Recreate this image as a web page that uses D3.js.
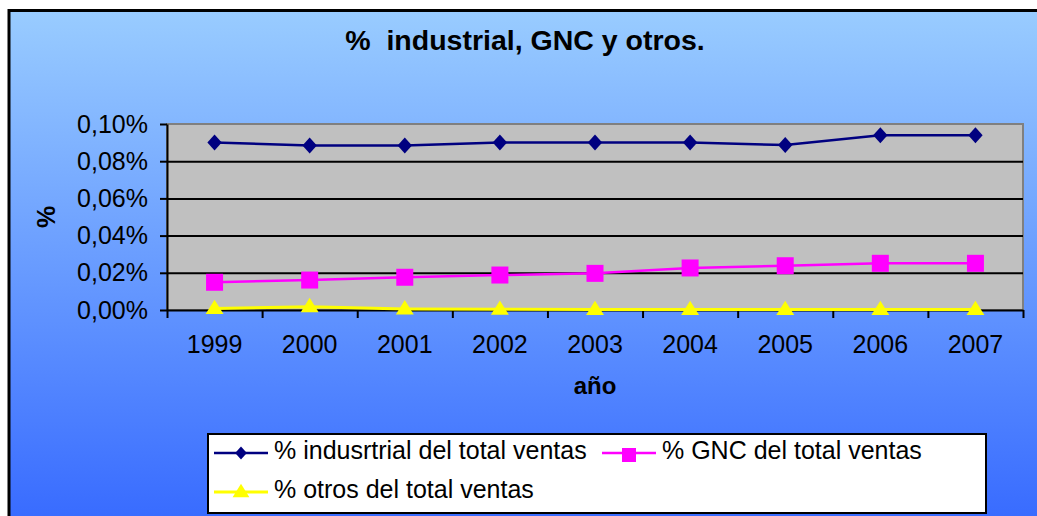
<!DOCTYPE html>
<html>
<head>
<meta charset="utf-8">
<script src="https://cdn.jsdelivr.net/npm/d3@7"></script>
<style>
  body { margin: 0; background: #fff; }
  svg { display: block; font-family: "Liberation Sans", Arial, sans-serif; }
</style>
</head>
<body>
<div id="chart"></div>
<script>
// data, in percent of total sales
var years = ['1999', '2000', '2001', '2002', '2003', '2004', '2005', '2006', '2007'];
var industrial = [0.0900, 0.0885, 0.0885, 0.0900, 0.0900, 0.0900, 0.0887, 0.0940, 0.0940];
var gnc = [0.0149, 0.0161, 0.0176, 0.0188, 0.0197, 0.0226, 0.0238, 0.0251, 0.0251];
var otros = [0.0008, 0.0018, 0.0006, 0.0004, 0.0003, 0.0003, 0.0003, 0.0003, 0.0003];
var yTicks = [0, 0.02, 0.04, 0.06, 0.08, 0.10];
var seriesNames = ['% indusrtrial del total ventas', '% GNC del total ventas', '% otros del total ventas'];

var W = 1037, H = 516;
var plot = {left: 167, right: 1023, top: 124, bottom: 310};

var svg = d3.select('#chart').append('svg')
  .attr('width', W)
  .attr('height', H);

var grad = svg.append('defs').append('linearGradient')
  .attr('id', 'bg')
  .attr('x1', 0).attr('y1', 0)
  .attr('x2', 0).attr('y2', 1);
grad.append('stop').attr('offset', '0%').attr('stop-color', '#99ccff');
grad.append('stop').attr('offset', '100%').attr('stop-color', '#3366ff');

// chart area
svg.append('rect')
  .attr('x', 9).attr('y', 10.5)
  .attr('width', W + 20).attr('height', H + 20)
  .attr('fill', 'url(#bg)')
  .attr('stroke', '#000')
  .attr('stroke-width', 3);

var x = d3.scaleBand().domain(years).range([plot.left, plot.right]);
var xb = d3.scaleLinear().domain([0, years.length]).range([plot.left, plot.right]);
var y = d3.scaleLinear().domain([0, 0.10]).range([plot.bottom, plot.top]);

var comma = d3.formatLocale({decimal: ',', thousands: '.', grouping: [3], currency: ['', '']}).format('.2f');

// plot area
svg.append('rect')
  .attr('x', plot.left).attr('y', plot.top)
  .attr('width', plot.right - plot.left)
  .attr('height', plot.bottom - plot.top)
  .attr('fill', '#c0c0c0')
  .attr('stroke', '#808080')
  .attr('stroke-width', 2);

// gridlines
svg.append('g')
  .attr('transform', 'translate(' + plot.left + ',0)')
  .call(d3.axisLeft(y).tickValues(yTicks.slice(1, -1)).tickSize(-(plot.right - plot.left)).tickFormat(''))
  .call(function(g){ g.select('.domain').remove(); })
  .selectAll('line').attr('stroke', '#000').attr('stroke-width', 2);

// y axis
svg.append('g')
  .attr('transform', 'translate(' + plot.left + ',0)')
  .call(d3.axisLeft(y).tickValues(yTicks).tickSize(7).tickSizeOuter(0).tickPadding(12)
    .tickFormat(function(d){ return comma(d) + '%'; }))
  .call(function(g){
    g.selectAll('line, path').attr('stroke', '#000').attr('stroke-width', 2);
    g.selectAll('text').attr('font-size', 25).attr('fill', '#000').attr('font-family', null);
  });

// x axis: boundary ticks
svg.append('g')
  .attr('transform', 'translate(0,' + plot.bottom + ')')
  .call(d3.axisBottom(xb).tickValues(d3.range(0, years.length + 1)).tickSize(8).tickSizeOuter(0).tickFormat(''))
  .selectAll('line, path').attr('stroke', '#000').attr('stroke-width', 2);

// x axis: labels
svg.append('g')
  .attr('transform', 'translate(0,' + plot.bottom + ')')
  .call(d3.axisBottom(x).tickSize(0).tickPadding(25))
  .call(function(g){
    g.select('.domain').remove();
    g.selectAll('text').attr('font-size', 25).attr('fill', '#000').attr('font-family', null);
  });

// marker shapes
var diamond = {draw: function(ctx, s){ var h = Math.sqrt(s); ctx.moveTo(0, -h * 0.5); ctx.lineTo(h * 0.45, 0); ctx.lineTo(0, h * 0.5); ctx.lineTo(-h * 0.45, 0); ctx.closePath(); }};
var triangle = {draw: function(ctx, s){ var h = Math.sqrt(s); ctx.moveTo(0, -h * 0.55); ctx.lineTo(h * 0.56, h * 0.35); ctx.lineTo(-h * 0.56, h * 0.35); ctx.closePath(); }};

var series = [
  {name: seriesNames[0], values: industrial, color: '#000080', width: 2.5, type: diamond, size: 256, key: 169},
  {name: seriesNames[1], values: gnc, color: '#ff00ff', width: 2.5, type: d3.symbolSquare, size: 289, key: 196},
  {name: seriesNames[2], values: otros, color: '#ffff00', width: 3, type: triangle, size: 256, key: 225}
];

var cx = function(d, i){ return x(years[i]) + x.bandwidth() / 2; };
var line = d3.line().x(cx).y(function(d){ return y(d); });

series.slice().reverse().forEach(function(s){
  var g = svg.append('g');
  g.append('path')
    .attr('d', line(s.values))
    .attr('fill', 'none')
    .attr('stroke', s.color)
    .attr('stroke-width', s.width);
  g.selectAll('path.m').data(s.values).enter().append('path')
    .attr('class', 'm')
    .attr('transform', function(d, i){ return 'translate(' + cx(d, i) + ',' + y(d) + ')'; })
    .attr('d', d3.symbol().type(s.type).size(s.size))
    .attr('fill', s.color);
});

// title and axis titles
svg.append('text')
  .attr('x', 525).attr('y', 50)
  .attr('text-anchor', 'middle')
  .attr('font-size', 28.5).attr('font-weight', 'bold')
  .style('white-space', 'pre')
  .text('%  industrial, GNC y otros.');

svg.append('text')
  .attr('transform', 'translate(55,' + ((plot.top + plot.bottom) / 2) + ') rotate(-90)')
  .attr('text-anchor', 'middle')
  .attr('font-size', 25).attr('font-weight', 'bold')
  .text('%');

svg.append('text')
  .attr('x', (plot.left + plot.right) / 2).attr('y', 394)
  .attr('text-anchor', 'middle')
  .attr('font-size', 24).attr('font-weight', 'bold')
  .text('año');

// legend
var legend = svg.append('g');
legend.append('rect')
  .attr('x', 208).attr('y', 434)
  .attr('width', 778).attr('height', 79)
  .attr('fill', '#fff')
  .attr('stroke', '#000')
  .attr('stroke-width', 2);

var slots = [{x: 214, y: 453}, {x: 602, y: 453}, {x: 214, y: 492}];
series.forEach(function(s, i){
  var g = legend.append('g').attr('transform', 'translate(' + slots[i].x + ',' + slots[i].y + ')');
  g.append('line')
    .attr('x1', 0).attr('x2', 54)
    .attr('stroke', s.color)
    .attr('stroke-width', s.width);
  g.append('path')
    .attr('transform', 'translate(27,' + (i === 1 ? 2 : 0) + ')')
    .attr('d', d3.symbol().type(s.type).size(s.key))
    .attr('fill', s.color);
  g.append('text')
    .attr('x', 60).attr('y', 6)
    .attr('font-size', 25)
    .text(s.name);
});
</script>
</body>
</html>
